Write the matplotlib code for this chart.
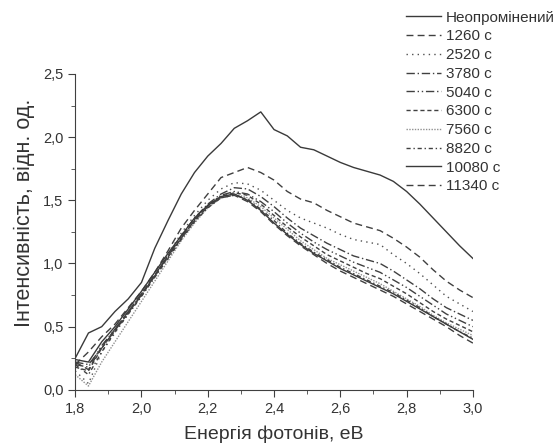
import matplotlib
matplotlib.use("Agg")
import matplotlib.pyplot as plt
from matplotlib.ticker import FuncFormatter, MultipleLocator

plt.rcParams["font.family"] = ["Liberation Sans", "DejaVu Sans"]

# photon energy, eV
energy = [1.80, 1.84, 1.88, 1.92, 1.96, 2.00, 2.04, 2.08, 2.12, 2.16, 2.20,
          2.24, 2.28, 2.32, 2.36, 2.40, 2.44, 2.48, 2.52, 2.56, 2.60, 2.64,
          2.68, 2.72, 2.76, 2.80, 2.84, 2.88, 2.92, 2.96, 3.00]

labels = ["Неопромінений", "1260 с", "2520 с", "3780 с", "5040 с",
          "6300 с", "7560 с", "8820 с", "10080 с", "11340 с"]

i_0 = [0.25, 0.45, 0.50, 0.62, 0.72, 0.85, 1.12, 1.34, 1.55, 1.72, 1.85,
       1.95, 2.07, 2.13, 2.20, 2.06, 2.01, 1.92, 1.90, 1.85, 1.80, 1.76,
       1.73, 1.70, 1.65, 1.57, 1.47, 1.36, 1.25, 1.14, 1.04]
i_1260 = [0.20, 0.30, 0.42, 0.52, 0.65, 0.78, 0.93, 1.10, 1.28, 1.42, 1.55,
          1.68, 1.72, 1.76, 1.72, 1.66, 1.57, 1.51, 1.48, 1.42, 1.37, 1.32,
          1.29, 1.26, 1.20, 1.13, 1.05, 0.95, 0.86, 0.79, 0.73]
i_2520 = [0.15, 0.05, 0.30, 0.45, 0.60, 0.74, 0.90, 1.07, 1.24, 1.38, 1.50,
          1.59, 1.64, 1.63, 1.58, 1.50, 1.42, 1.36, 1.32, 1.28, 1.23, 1.19,
          1.17, 1.15, 1.07, 1.00, 0.92, 0.83, 0.74, 0.68, 0.62]
i_3780 = [0.22, 0.20, 0.33, 0.47, 0.61, 0.75, 0.90, 1.06, 1.22, 1.36, 1.47,
          1.55, 1.60, 1.59, 1.53, 1.45, 1.36, 1.28, 1.22, 1.16, 1.11, 1.06,
          1.03, 1.00, 0.94, 0.87, 0.80, 0.72, 0.65, 0.60, 0.55]
i_5040 = [0.20, 0.18, 0.35, 0.48, 0.62, 0.76, 0.91, 1.06, 1.21, 1.35, 1.46,
          1.54, 1.57, 1.55, 1.49, 1.41, 1.32, 1.24, 1.17, 1.11, 1.06, 1.01,
          0.97, 0.93, 0.87, 0.81, 0.74, 0.67, 0.60, 0.55, 0.50]
i_6300 = [0.18, 0.15, 0.33, 0.47, 0.61, 0.75, 0.90, 1.05, 1.20, 1.34, 1.45,
          1.53, 1.56, 1.54, 1.47, 1.38, 1.29, 1.21, 1.14, 1.07, 1.02, 0.97,
          0.92, 0.88, 0.82, 0.76, 0.69, 0.62, 0.56, 0.51, 0.46]
i_7560 = [0.12, 0.03, 0.22, 0.38, 0.54, 0.70, 0.86, 1.02, 1.18, 1.32, 1.44,
          1.52, 1.55, 1.52, 1.45, 1.36, 1.27, 1.18, 1.11, 1.04, 0.99, 0.94,
          0.89, 0.84, 0.78, 0.72, 0.66, 0.59, 0.53, 0.48, 0.43]
i_8820 = [0.20, 0.12, 0.30, 0.46, 0.60, 0.74, 0.89, 1.04, 1.19, 1.33, 1.44,
          1.52, 1.54, 1.51, 1.43, 1.34, 1.24, 1.16, 1.09, 1.03, 0.97, 0.92,
          0.87, 0.82, 0.77, 0.71, 0.65, 0.58, 0.52, 0.46, 0.41]
i_10080 = [0.24, 0.22, 0.38, 0.50, 0.64, 0.78, 0.93, 1.08, 1.22, 1.36, 1.46,
           1.53, 1.55, 1.50, 1.42, 1.32, 1.23, 1.15, 1.08, 1.02, 0.96, 0.91,
           0.86, 0.81, 0.76, 0.70, 0.64, 0.58, 0.52, 0.46, 0.40]
i_11340 = [0.22, 0.16, 0.34, 0.48, 0.62, 0.76, 0.91, 1.06, 1.20, 1.34, 1.45,
           1.52, 1.54, 1.49, 1.41, 1.31, 1.22, 1.14, 1.07, 1.00, 0.94, 0.89,
           0.84, 0.79, 0.74, 0.68, 0.62, 0.56, 0.50, 0.43, 0.37]

series = [i_0, i_1260, i_2520, i_3780, i_5040, i_6300, i_7560, i_8820,
          i_10080, i_11340]

styles = [
    dict(color="#3a3a3a", linestyle="-"),
    dict(color="#404040", linestyle=(0, (5, 3))),
    dict(color="#505050", linestyle=(0, (1, 3))),
    dict(color="#404040", linestyle=(0, (6, 2, 1, 2))),
    dict(color="#404040", linestyle=(0, (6, 2, 1, 2, 1, 2))),
    dict(color="#404040", linestyle=(0, (3, 2))),
    dict(color="#909090", linestyle=(0, (1, 1))),
    dict(color="#404040", linestyle=(0, (3, 2, 1, 2))),
    dict(color="#3a3a3a", linestyle="-"),
    dict(color="#404040", linestyle=(0, (5, 3))),
]

fig = plt.figure(figsize=(5.57, 4.43), dpi=100)
ax = fig.add_axes([0.135, 0.12, 0.714, 0.713])

for values, label, style in zip(series, labels, styles):
    ax.plot(energy, values, linewidth=1.0, label=label, **style)

ax.set_xlim(1.8, 3.0)
ax.set_ylim(0.0, 2.5)
ax.xaxis.set_major_locator(MultipleLocator(0.2))
ax.xaxis.set_minor_locator(MultipleLocator(0.1))
ax.yaxis.set_major_locator(MultipleLocator(0.5))
ax.yaxis.set_minor_locator(MultipleLocator(0.25))
comma = FuncFormatter(lambda v, pos: f"{v:.1f}".replace(".", ","))
ax.xaxis.set_major_formatter(comma)
ax.yaxis.set_major_formatter(comma)

for side in ["top", "right"]:
    ax.spines[side].set_visible(False)
for side in ["left", "bottom"]:
    ax.spines[side].set_color("#404040")
ax.tick_params(which="major", length=5, color="#404040", labelsize=10.5,
               labelcolor="#333333")
ax.tick_params(which="minor", length=3, color="#404040")

ax.set_xlabel("Енергія фотонів, еВ", fontsize=14, color="#333333", labelpad=7)
ax.set_ylabel("Інтенсивність, відн. од.", fontsize=15.5, color="#333333",
              labelpad=6)
ax.yaxis.set_label_coords(-0.1, 0.56)

fig.legend(loc="upper left", bbox_to_anchor=(0.71, 1.0), frameon=False,
           fontsize=11, handlelength=2.3, handletextpad=0.3,
           labelspacing=0.31, borderpad=0.2, labelcolor="#333333")

fig.savefig("out.png", dpi=100)
